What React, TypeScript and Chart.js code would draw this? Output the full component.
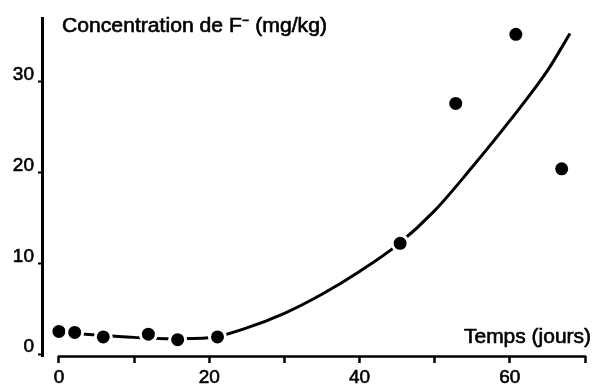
import React, { useEffect, useRef } from 'react';
import { Chart, registerables } from 'chart.js';

Chart.register(...registerables);

// Measured points (days, F- concentration mg/kg)
const pointDays = [0, 2.1, 5.9, 11.9, 15.8, 21.1, 45.4, 52.8, 60.8, 66.9];
const pointConc = [2.5, 2.4, 1.9, 2.2, 1.6, 1.9, 12.2, 27.6, 35.2, 20.4];

// Fitted curve
const curveDays = [0, 5, 10, 15, 20, 25, 30, 35, 40, 45, 50, 55, 60, 65, 68];
const curveConc = [2.4, 2.1, 1.85, 1.7, 1.8, 2.9, 4.5, 6.6, 9.1, 12.0, 15.8, 20.6, 25.7, 31.2, 35.3];

const xTicks = [0, 10, 20, 30, 40, 50, 60, 70];
const xLabels = ['0', '', '20', '', '40', '', '60', ''];
const yTicks = [0, 10, 20, 30];
const yLabels = ['0', '10', '20', '30'];

const yTitle = 'Concentration de F\u207B (mg/kg)';
const xTitle = 'Temps (jours)';

const FONT = '"Liberation Sans", Arial, Helvetica, sans-serif';

function drawFitted(ctx: CanvasRenderingContext2D, text: string, x: number, y: number, target: number, align: 'left' | 'right') {
  ctx.save();
  ctx.font = `19.5px ${FONT}`;
  ctx.fillStyle = '#000';
  ctx.strokeStyle = '#000';
  ctx.lineWidth = 0.6;
  ctx.textBaseline = 'alphabetic';
  ctx.textAlign = 'left';
  const w = ctx.measureText(text).width;
  const s = target / w;
  ctx.translate(x, y);
  ctx.scale(s, 1);
  const tx = align === 'left' ? 0 : -w;
  ctx.fillText(text, tx, 0);
  ctx.strokeText(text, tx, 0);
  ctx.restore();
}

const decor = {
  id: 'decor',
  afterDraw(chart: any) {
    const { ctx, chartArea, scales } = chart;
    const xs = scales.x;
    ctx.save();
    ctx.strokeStyle = '#000';
    ctx.lineWidth = 2.5;
    ctx.beginPath();
    ctx.moveTo(xs.getPixelForValue(xTicks[0]) - 1, chartArea.bottom + 0.5);
    ctx.lineTo(xs.getPixelForValue(xTicks[xTicks.length - 1]) + 1, chartArea.bottom + 0.5);
    ctx.stroke();
    ctx.restore();
    drawFitted(ctx, yTitle, 62, 32, 265, 'left');
    drawFitted(ctx, xTitle, 591, 343, 127, 'right');
  },
};

export default function App() {
  const ref = useRef<HTMLCanvasElement | null>(null);
  useEffect(() => {
    if (!ref.current) return;
    const chart = new Chart(ref.current, {
      type: 'scatter',
      data: {
        datasets: [
          {
            label: 'points',
            data: pointDays.map((d, i) => ({ x: d, y: pointConc[i] })),
            pointRadius: 8,
            pointBorderWidth: 3,
            pointBorderColor: '#fff',
            pointBackgroundColor: '#000',
            showLine: false,
            order: 0,
          } as any,
          {
            label: 'curve',
            data: curveDays.map((d, i) => ({ x: d, y: curveConc[i] })),
            showLine: true,
            borderColor: '#000',
            borderWidth: 3,
            pointRadius: 0,
            cubicInterpolationMode: 'monotone',
            fill: false,
            order: 1,
          } as any,
        ],
      },
      options: {
        animation: false,
        responsive: false,
        maintainAspectRatio: false,
        layout: { padding: { left: 0, right: 4, top: 18, bottom: 0 } },
        plugins: { legend: { display: false }, tooltip: { enabled: false } },
        scales: {
          x: {
            type: 'linear',
            min: -2.25,
            max: 70,
            afterFit: (s: any) => { s.height = 31; },
            afterBuildTicks: (s: any) => { s.ticks = xTicks.map((v) => ({ value: v })); },
            border: { display: false },
            grid: { drawOnChartArea: false, drawTicks: true, tickLength: 7, tickWidth: 2.5, tickColor: '#000' },
            ticks: {
              callback: (_v: any, i: number) => xLabels[i],
              font: { family: FONT, size: 19 },
              color: '#000',
              textStrokeColor: '#000',
              textStrokeWidth: 0.6,
              padding: 3,
              maxRotation: 0,
              autoSkip: false,
            },
          },
          y: {
            type: 'linear',
            min: -0.2,
            max: 37,
            afterFit: (s: any) => { s.width = 42; },
            afterBuildTicks: (s: any) => { s.ticks = yTicks.map((v) => ({ value: v })); },
            border: { display: true, color: '#000', width: 3 },
            grid: { drawOnChartArea: false, drawTicks: true, tickLength: 4, tickWidth: 2, tickColor: '#000' },
            ticks: {
              callback: (_v: any, i: number) => yLabels[i],
              font: { family: FONT, size: 19 },
              color: '#000',
              textStrokeColor: '#000',
              textStrokeWidth: 0.6,
              padding: 4,
              labelOffset: -7,
              autoSkip: false,
            },
          },
        },
      },
      plugins: [decor],
    } as any);
    return () => chart.destroy();
  }, []);
  return (
    <div style={{ position: 'fixed', left: 0, top: 0, width: 596, height: 387, background: '#fff' }}>
      <canvas ref={ref} width={596} height={387} style={{ width: 596, height: 387, display: 'block' }} />
    </div>
  );
}
